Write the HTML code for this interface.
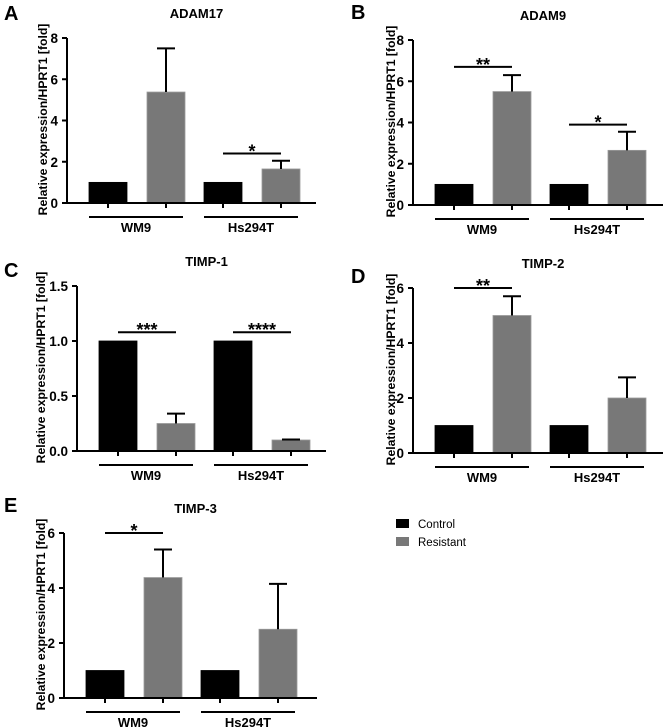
<!DOCTYPE html>
<html><head><meta charset="utf-8"><style>
body{margin:0;background:#fff}
svg{display:block;font-family:"Liberation Sans",Arial,sans-serif;font-weight:bold}
</style></head><body>
<svg id="fig" width="669" height="727" viewBox="0 0 669 727"></svg>
<script>
const groups=["WM9","Hs294T"];
const series=["Control","Resistant"];
const titles=["ADAM17","ADAM9","TIMP-1","TIMP-2","TIMP-3"];
const letters=["A","B","C","D","E"];
const adam17Vals=[1,5.38,1,1.65];const adam17Err=[0,7.5,0,2.05];
const adam9Vals=[1,5.5,1,2.65];const adam9Err=[0,6.3,0,3.55];
const timp1Vals=[1,0.25,1,0.10];const timp1Err=[0,0.34,0,0.105];
const timp2Vals=[1,5.0,1,2.0];const timp2Err=[0,5.7,0,2.75];
const timp3Vals=[1,4.38,1,2.5];const timp3Err=[0,5.4,0,4.15];
const ticksA=["0","2","4","6","8"];const ticksB=["0","2","4","6","8"];
const ticksC=["0.0","0.5","1.0","1.5"];const ticksD=["0","2","4","6"];const ticksE=["0","2","4","6"];
const sigA=[{g:1,label:"*",y:2.4}];
const sigB=[{g:0,label:"**",y:6.7},{g:1,label:"*",y:3.9}];
const sigC=[{g:0,label:"***",y:1.08},{g:1,label:"****",y:1.08}];
const sigD=[{g:0,label:"**",y:6.0}];
const sigE=[{g:0,label:"*",y:6.0}];

const NS="http://www.w3.org/2000/svg";
const svg=document.getElementById("fig");
function mk(tag,attrs,parent,text){const e=document.createElementNS(NS,tag);for(const k in attrs)e.setAttribute(k,attrs[k]);if(text!==undefined)e.textContent=text;(parent||svg).appendChild(e);return e;}

function panel(i,ox,top,bot,xEnd,vals,errs,ticks,sigs,lx,ly,ytx){
  const g=mk("g",{});
  
  
  const ymax=parseFloat(ticks[ticks.length-1]);
  const y=v=>bot-(v/ymax)*(bot-top);
  const offs=[22,80,137,195],bw=38;
  const bx=k=>ox+offs[k];
  const L=mk("text",{x:lx,y:ly,"font-size":20},g,letters[i]);
  
  const T=mk("text",{x:(ox+xEnd)/2+5,y:top-20,"font-size":13,"text-anchor":"middle"},g,titles[i]);
  
  const yl=mk("text",{transform:`translate(${ytx},${(top+bot)/2-1}) rotate(-90)`,"font-size":12.2,"text-anchor":"middle"},g,"Relative expression/HPRT1 [fold]");
  
  vals.forEach((v,k)=>{
    const r=mk("rect",{x:bx(k),y:y(v),width:bw,height:bot-y(v),fill:k%2?"#787878":"#000",stroke:k%2?"#9a9a9a":"#000","stroke-width":0.8},g);
    
    
    if(errs[k]>v){
      const cx=bx(k)+bw/2;
      const e=mk("path",{d:`M${cx},${y(v)}V${y(errs[k])}M${cx-9},${y(errs[k])}H${cx+9}`,stroke:"#000","stroke-width":2,fill:"none"},g);
      
    }
  });
  const ax=mk("path",{d:`M${ox},${top}V${bot}H${xEnd}`,stroke:"#000","stroke-width":2,fill:"none"},g);
  
  ticks.forEach(t=>{
    const v=parseFloat(t);
    mk("line",{x1:ox-5,x2:ox,y1:y(v),y2:y(v),stroke:"#000","stroke-width":2},g);
    const tl=mk("text",{x:ox-9,y:y(v)+5,"font-size":13.5,"text-anchor":"end"},g,t);
    
  });
  for(let k=0;k<4;k++){const cx=bx(k)+bw/2;mk("line",{x1:cx,x2:cx,y1:bot,y2:bot+5,stroke:"#000","stroke-width":2},g);}
  groups.forEach((gn,j)=>{
    const x1=bx(2*j),x2=bx(2*j+1)+bw-2;
    mk("line",{x1:x1,x2:x2,y1:bot+14,y2:bot+14,stroke:"#000","stroke-width":2},g);
    const gl=mk("text",{x:(x1+x2)/2,y:bot+29,"font-size":13,"text-anchor":"middle"},g,gn);
    
  });
  sigs.forEach(s=>{
    const x1=bx(2*s.g)+bw/2,x2=bx(2*s.g+1)+bw/2;
    const ln=mk("line",{x1:x1,x2:x2,y1:y(s.y),y2:y(s.y),stroke:"#000","stroke-width":2},g);
    
    const st=mk("text",{x:(x1+x2)/2,y:y(s.y)+4,"font-size":18,"text-anchor":"middle"},g,s.label);
    
  });
}
panel(0,67,38,203,316,adam17Vals,adam17Err,ticksA,sigA,4,20,47);
panel(1,413,40,205,663,adam9Vals,adam9Err,ticksB,sigB,351,19,395);
panel(2,77,286,451,326,timp1Vals,timp1Err,ticksC,sigC,4,277,45);
panel(3,413,288,453,663,timp2Vals,timp2Err,ticksD,sigD,351,283,395);
panel(4,64,533,698,317,timp3Vals,timp3Err,ticksE,sigE,4,512,45);
const lg=mk("g",{});


series.forEach((s,k)=>{
  const yy=519+k*18;
  mk("rect",{x:396,y:yy,width:13,height:9,fill:k?"#787878":"#000"},lg);
  const t=mk("text",{x:418,y:yy+9,"font-size":11.5,"font-weight":"normal"},lg,s);
  
  
});
</script>
</body></html>
